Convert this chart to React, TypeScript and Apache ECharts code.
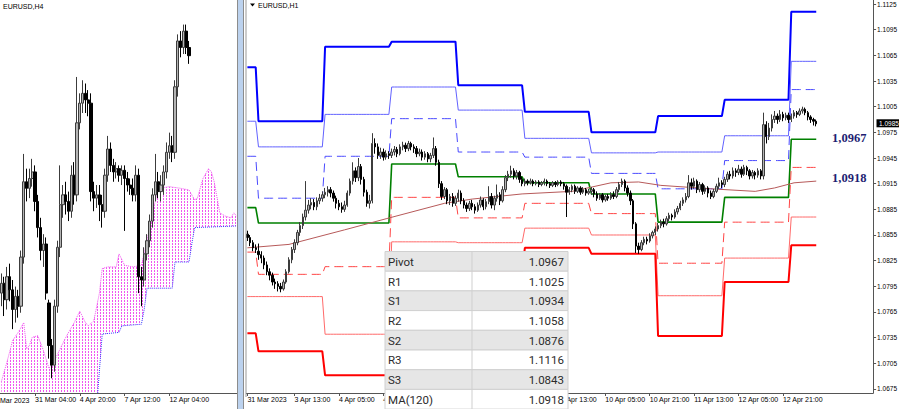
import React, { useEffect, useRef } from "react";
import * as echarts from "echarts";

const SANS = "'Liberation Sans', Arial, sans-serif";

// ---------------- Left panel: EURUSD,H4 (prices in 1e-4 units) ----------------
const h4TimeLabels: [number, string][] = [
  [12, "31 Mar 04:00"],
  [28, "4 Apr 20:00"],
  [44, "7 Apr 12:00"],
  [60, "12 Apr 04:00"],
];
const h4FirstLabel = "28 Mar 2023";

// [open, close, low, high]
const h4Candles: number[][] = [
  [10840, 10846, 10832, 10852], [10846, 10836, 10826, 10850], [10836, 10850, 10830, 10856],
  [10850, 10842, 10835, 10858], [10842, 10830, 10818, 10848], [10830, 10838, 10822, 10844],
  [10838, 10832, 10825, 10842], [10832, 10862, 10828, 10866], [10862, 10908, 10858, 10925],
  [10908, 10904, 10896, 10916], [10904, 10910, 10898, 10916], [10910, 10914, 10905, 10922],
  [10914, 10896, 10890, 10918], [10896, 10880, 10874, 10900], [10880, 10866, 10860, 10886],
  [10866, 10870, 10856, 10876], [10870, 10840, 10836, 10874], [10834, 10808, 10800, 10836],
  [10808, 10796, 10788, 10812], [10796, 10832, 10792, 10836], [10832, 10868, 10828, 10872],
  [10868, 10894, 10862, 10918], [10894, 10900, 10886, 10906], [10900, 10896, 10888, 10908],
  [10896, 10890, 10884, 10902], [10890, 10912, 10886, 10918], [10912, 10900, 10894, 10920],
  [10900, 10944, 10896, 10972], [10944, 10956, 10940, 10962], [10956, 10962, 10950, 10970],
  [10962, 10958, 10950, 10968], [10958, 10956, 10948, 10964], [10956, 10902, 10896, 10962],
  [10902, 10898, 10890, 10908], [10898, 10900, 10892, 10906], [10900, 10894, 10884, 10906],
  [10894, 10890, 10880, 10900], [10890, 10912, 10886, 10916], [10912, 10928, 10908, 10936],
  [10928, 10918, 10914, 10932], [10918, 10914, 10908, 10922], [10914, 10916, 10910, 10920],
  [10916, 10912, 10908, 10918], [10912, 10915, 10906, 10918], [10915, 10910, 10878, 10918],
  [10910, 10906, 10902, 10914], [10906, 10904, 10900, 10910], [10904, 10900, 10896, 10910],
  [10900, 10912, 10896, 10918], [10912, 10850, 10840, 10916], [10850, 10848, 10832, 10856],
  [10848, 10864, 10844, 10868], [10864, 10872, 10860, 10876], [10872, 10884, 10868, 10888],
  [10884, 10900, 10880, 10904], [10900, 10908, 10896, 10925], [10908, 10902, 10898, 10914],
  [10902, 10906, 10896, 10912], [10906, 10914, 10900, 10918], [10914, 10926, 10910, 10932],
  [10926, 10930, 10922, 10938], [10930, 10926, 10920, 10936], [10926, 10966, 10922, 10970],
  [10966, 10994, 10960, 10998], [10994, 10990, 10984, 11000], [10990, 11000, 10986, 11004],
  [11000, 10990, 10986, 11004], [10990, 10985, 10980, 10994],
];

// Ichimoku cloud edges: [slot, price]
const cloudSpanA: [number, number][] = [
  [0, 10786], [2, 10798], [4, 10811], [6, 10816], [8, 10822], [9, 10806], [10, 10808],
  [11, 10813], [13, 10814], [15, 10805], [17, 10794], [19, 10799], [21, 10806], [23, 10813],
  [26, 10822], [28, 10829], [30, 10822], [31, 10820], [33, 10823], [35, 10840], [36, 10855],
  [38, 10856], [41, 10856], [42, 10864], [44, 10857], [47, 10856], [50, 10857], [52, 10872],
  [54, 10889], [56, 10904], [60, 10905], [64, 10904], [67, 10903], [69, 10897], [70, 10898],
  [72, 10910], [74, 10916], [75, 10914], [76, 10908], [78, 10889], [80, 10887], [82, 10886],
  [83, 10889], [84, 10887],
];
const cloudSpanB: [number, number][] = [
  [0, 10770], [34, 10770], [36, 10815], [42, 10816], [43, 10820], [50, 10821], [51, 10830],
  [52, 10843], [61, 10843], [62, 10859], [67, 10859], [68, 10870], [69, 10880], [84, 10881],
];

// ---------------- Right panel: EURUSD,H1 ----------------
const h1Mar31 = [
  [10856, 10852, 10848, 10860], [10852, 10846, 10842, 10855], [10846, 10840, 10836, 10849],
  [10840, 10838, 10834, 10844],
];
const h1Apr03 = [
  [10836, 10832, 10826, 10845], [10832, 10828, 10822, 10836], [10828, 10820, 10815, 10831],
  [10820, 10812, 10808, 10824], [10812, 10808, 10802, 10816], [10808, 10800, 10796, 10811],
  [10800, 10798, 10792, 10804], [10798, 10795, 10789, 10801], [10795, 10792, 10788, 10799],
  [10792, 10800, 10790, 10803], [10800, 10812, 10798, 10815], [10812, 10826, 10810, 10829],
  [10826, 10838, 10822, 10841], [10838, 10846, 10834, 10850], [10846, 10858, 10843, 10861],
  [10858, 10866, 10854, 10870], [10866, 10876, 10862, 10880], [10876, 10884, 10872, 10918],
  [10884, 10890, 10880, 10896], [10890, 10893, 10885, 10898], [10893, 10888, 10884, 10897],
  [10888, 10895, 10884, 10899], [10895, 10898, 10891, 10903], [10898, 10902, 10894, 10906],
];
const h1Apr04 = [
  [10902, 10905, 10898, 10910], [10905, 10908, 10900, 10912], [10908, 10904, 10899, 10911],
  [10904, 10898, 10894, 10907], [10898, 10892, 10886, 10901], [10892, 10888, 10884, 10896],
  [10888, 10885, 10881, 10893], [10885, 10890, 10882, 10895], [10890, 10904, 10888, 10907],
  [10904, 10918, 10901, 10921], [10918, 10930, 10914, 10940], [10930, 10922, 10917, 10934],
  [10922, 10935, 10918, 10945], [10935, 10920, 10914, 10938], [10920, 10905, 10900, 10923],
  [10905, 10892, 10888, 10908], [10892, 10895, 10886, 10902], [10895, 10962, 10892, 10974],
  [10962, 10958, 10950, 10968], [10958, 10948, 10944, 10962], [10948, 10952, 10944, 10957],
  [10952, 10946, 10942, 10956], [10946, 10950, 10943, 10954], [10950, 10948, 10944, 10953],
];
const h1Apr05 = [
  [10948, 10952, 10945, 10956], [10952, 10955, 10948, 10959], [10955, 10950, 10946, 10958],
  [10950, 10958, 10948, 10961], [10958, 10960, 10954, 10964], [10960, 10956, 10952, 10963],
  [10956, 10962, 10953, 10965], [10962, 10958, 10954, 10964], [10958, 10956, 10951, 10961],
  [10956, 10950, 10946, 10959], [10950, 10952, 10947, 10956], [10952, 10946, 10942, 10955],
  [10946, 10950, 10943, 10953], [10950, 10944, 10940, 10952], [10944, 10948, 10940, 10951],
  [10948, 10956, 10945, 10969], [10956, 10940, 10936, 10959], [10940, 10915, 10910, 10943],
  [10915, 10900, 10896, 10918], [10900, 10908, 10897, 10911], [10908, 10895, 10891, 10910],
  [10895, 10900, 10890, 10903], [10900, 10892, 10888, 10904], [10892, 10898, 10889, 10901],
];
const h1Apr06 = [
  [10898, 10904, 10894, 10908], [10904, 10895, 10891, 10907], [10895, 10890, 10886, 10898],
  [10890, 10886, 10882, 10893], [10886, 10892, 10883, 10895], [10892, 10888, 10884, 10896],
  [10888, 10884, 10880, 10891], [10884, 10890, 10882, 10893], [10890, 10896, 10887, 10900],
  [10896, 10888, 10884, 10898], [10888, 10894, 10885, 10897], [10894, 10900, 10891, 10912],
  [10900, 10890, 10886, 10904], [10890, 10898, 10884, 10901], [10898, 10902, 10894, 10914],
  [10902, 10895, 10890, 10905], [10895, 10908, 10893, 10912], [10908, 10922, 10905, 10925],
  [10922, 10926, 10918, 10930], [10926, 10930, 10922, 10936], [10930, 10924, 10920, 10933],
  [10924, 10928, 10920, 10931], [10928, 10920, 10916, 10930], [10920, 10915, 10912, 10923],
];
const h1Apr07 = [
  [10915, 10918, 10912, 10921], [10918, 10916, 10913, 10920], [10916, 10918, 10914, 10921],
  [10918, 10915, 10912, 10920], [10915, 10917, 10913, 10919], [10917, 10914, 10911, 10919],
  [10914, 10916, 10912, 10918], [10916, 10918, 10913, 10921], [10918, 10915, 10912, 10920],
  [10915, 10913, 10910, 10917], [10913, 10916, 10911, 10918], [10916, 10914, 10911, 10918],
  [10914, 10917, 10912, 10919], [10917, 10915, 10912, 10919], [10915, 10912, 10908, 10917],
  [10912, 10905, 10876, 10914], [10905, 10908, 10902, 10911], [10908, 10912, 10905, 10914],
  [10912, 10906, 10903, 10914], [10906, 10910, 10904, 10912], [10910, 10905, 10902, 10912],
  [10905, 10908, 10903, 10911], [10908, 10904, 10901, 10910], [10904, 10906, 10902, 10909],
];
const h1Apr10 = [
  [10906, 10908, 10902, 10911], [10908, 10903, 10899, 10910], [10903, 10898, 10895, 10906],
  [10898, 10902, 10896, 10904], [10902, 10896, 10893, 10904], [10896, 10900, 10894, 10902],
  [10900, 10898, 10895, 10903], [10898, 10902, 10896, 10905], [10902, 10900, 10897, 10906],
  [10900, 10908, 10898, 10911], [10908, 10914, 10905, 10917], [10914, 10918, 10911, 10921],
  [10918, 10910, 10906, 10920], [10910, 10904, 10900, 10913], [10904, 10895, 10890, 10907],
  [10895, 10868, 10862, 10897], [10868, 10842, 10834, 10870], [10842, 10838, 10833, 10846],
  [10838, 10846, 10836, 10849], [10846, 10850, 10843, 10853], [10850, 10848, 10844, 10853],
  [10848, 10854, 10846, 10857], [10854, 10858, 10851, 10860], [10858, 10862, 10855, 10865],
];
const h1Apr11 = [
  [10862, 10866, 10859, 10869], [10866, 10870, 10863, 10873], [10870, 10868, 10864, 10874],
  [10868, 10874, 10866, 10877], [10874, 10878, 10871, 10881], [10878, 10876, 10872, 10880],
  [10876, 10882, 10874, 10885], [10882, 10886, 10879, 10889], [10886, 10892, 10884, 10895],
  [10892, 10896, 10889, 10899], [10896, 10900, 10893, 10904], [10900, 10916, 10898, 10925],
  [10916, 10912, 10908, 10921], [10912, 10918, 10909, 10922], [10918, 10908, 10904, 10920],
  [10908, 10914, 10905, 10917], [10914, 10906, 10902, 10916], [10906, 10910, 10903, 10913],
  [10910, 10904, 10899, 10912], [10904, 10900, 10897, 10907], [10900, 10906, 10898, 10909],
  [10906, 10912, 10904, 10915], [10912, 10916, 10909, 10922], [10916, 10914, 10910, 10919],
];
const h1Apr12 = [
  [10914, 10920, 10911, 10923], [10920, 10926, 10917, 10929], [10926, 10924, 10920, 10930],
  [10924, 10930, 10921, 10934], [10930, 10928, 10923, 10933], [10928, 10932, 10925, 10937],
  [10932, 10926, 10922, 10935], [10926, 10934, 10924, 10937], [10934, 10930, 10925, 10936],
  [10930, 10924, 10920, 10932], [10924, 10928, 10921, 10931], [10928, 10925, 10920, 10930],
  [10925, 10930, 10922, 10933], [10930, 10924, 10920, 10932], [10924, 10984, 10920, 10998],
  [10984, 10970, 10962, 10988], [10970, 10980, 10966, 10986], [10980, 10990, 10976, 10996],
  [10990, 10994, 10986, 11000], [10994, 10990, 10985, 10997], [10990, 10996, 10987, 11001],
  [10996, 10992, 10988, 10999], [10992, 10995, 10989, 10998], [10995, 10990, 10986, 10998],
];
const h1Apr13 = [
  [10990, 10994, 10987, 10997], [10994, 10998, 10991, 11001], [10998, 10996, 10992, 11000],
  [10996, 11000, 10994, 11003], [11000, 11002, 10997, 11005], [11002, 10998, 10995, 11004],
  [10998, 10993, 10989, 11000], [10993, 10990, 10986, 10995], [10990, 10988, 10983, 10992],
  [10988, 10985, 10982, 10990],
];

// Daily pivot levels, one per day (31 Mar, 3..7 Apr, 10..13 Apr)
const r3Levels = [1.1051, 1.0988, 1.1075, 1.1081, 1.1030, 1.0999, 1.0975, 1.0994, 1.1013, 1.1116];
const r2Levels = [1.0988, 1.0958, 1.0996, 1.1028, 1.1001, 1.0968, 1.0951, 1.0952, 1.0971, 1.1058];
const r1Levels = [1.0947, 1.0898, 1.0947, 1.0991, 1.0952, 1.0946, 1.0927, 1.0909, 1.0942, 1.1025];
const pivotLevels = [1.0887, 1.0869, 1.0869, 1.0938, 1.0923, 1.0916, 1.0903, 1.0870, 1.0899, 1.0967];
const s1Levels = [1.0835, 1.0809, 1.0818, 1.0899, 1.0875, 1.0892, 1.0880, 1.0822, 1.0870, 1.0934];
const s2Levels = [1.0783, 1.0783, 1.0739, 1.0847, 1.0846, 1.0863, 1.0855, 1.0784, 1.0828, 1.0876];
const s3Levels = [1.0740, 1.0719, 1.0691, 1.0805, 1.0812, 1.0840, 1.0833, 1.0737, 1.0800, 1.0843];

// MA(120): [slot, price]
const ma120Points: [number, number][] = [
  [0, 1.0840], [15, 1.0844], [35, 1.0861], [50, 1.0874], [71, 1.0892], [81, 1.0897],
  [99, 1.0903], [117, 1.0906], [131, 1.0916], [141, 1.0917], [149, 1.0913], [167, 1.0909],
  [183, 1.0906], [190, 1.0910], [197, 1.0916], [205, 1.0918],
];

const h1TimeLabels: [number, string][] = [
  [0, "31 Mar 2023"], [17, "3 Apr 13:00"], [33, "4 Apr 05:00"], [49, "4 Apr 21:00"],
  [113, "7 Apr 13:00"], [129, "10 Apr 05:00"], [145, "10 Apr 21:00"], [161, "11 Apr 13:00"],
  [177, "12 Apr 05:00"], [193, "12 Apr 21:00"],
];

const priceTicks = [
  1.0675, 1.0705, 1.0735, 1.0765, 1.0795, 1.0825, 1.0855, 1.0885, 1.0915, 1.0945, 1.0975,
  1.1005, 1.1035, 1.1065, 1.1095, 1.1125,
];

const tableLabels = ["Pivot", "R1", "S1", "R2", "S2", "R3", "S3", "MA(120)"];

function cloudPattern(): string {
  const c = document.createElement("canvas");
  c.width = 3;
  c.height = 3;
  const g = c.getContext("2d")!;
  g.fillStyle = "#f055f0";
  g.fillRect(1, 0, 1, 2);
  return c.toDataURL();
}

export default function App() {
  const ref = useRef<HTMLDivElement>(null);

  useEffect(() => {
    const chart = echarts.init(ref.current!, null, { renderer: "svg" });
    const pip = (v: number) => v / 10000;

    const leftSlots = Array.from({ length: 85 }, (_, i) => String(i));
    const rightSlots = Array.from({ length: 226 }, (_, i) => String(i));

    const h4Data = h4Candles.map((c) => c.map(pip));
    const spanA = cloudSpanA.map(([s, v]) => [s, pip(v)]);
    const spanB = cloudSpanB.map(([s, v]) => [s, pip(v)]);

    const h1Days = [h1Mar31, h1Apr03, h1Apr04, h1Apr05, h1Apr06, h1Apr07, h1Apr10, h1Apr11, h1Apr12, h1Apr13];
    const h1Data = h1Days.flat().map((c) => c.map(pip));
    const dayLens = h1Days.map((d) => d.length);
    const expand = (lv: number[]) => dayLens.flatMap((n, i) => Array(n).fill(lv[i]));

    const leftMap = new Map(h4TimeLabels);
    const rightMap = new Map(h1TimeLabels);

    const xAxisFor = (gridIndex: number, data: string[], map: Map<number, string>) => ({
      type: "category",
      gridIndex,
      data,
      boundaryGap: true,
      z: 10,
      axisLine: { show: true, lineStyle: { color: "#555", width: 1 } },
      axisTick: {
        show: true,
        alignWithLabel: true,
        length: 3,
        interval: (i: number) => map.has(i),
        lineStyle: { color: "#555" },
      },
      axisLabel: {
        show: true,
        interval: (i: number) => map.has(i),
        formatter: (_v: string, i: number) => map.get(i) ?? "",
        align: "left",
        margin: 3,
        fontSize: 7,
        color: "#000",
        fontFamily: SANS,
      },
      splitLine: { show: false },
    });

    const lvl = (data: number[], color: string, width: number, type: any) => ({
      type: "line",
      xAxisIndex: 1,
      yAxisIndex: 1,
      data,
      symbol: "none",
      showSymbol: false,
      silent: true,
      z: 2,
      lineStyle: { color, width, type },
    });

    const candleStyle = {
      color: "#b4b4b4",
      color0: "#000000",
      borderColor: "#3c3c3c",
      borderColor0: "#000000",
      borderWidth: 1,
    };

    const option: any = {
      animation: false,
      backgroundColor: "#ffffff",
      grid: [
        { left: 0, top: 0, width: 238, height: 393 },
        { left: 246, top: 0, width: 630, height: 393 },
      ],
      xAxis: [xAxisFor(0, leftSlots, leftMap), xAxisFor(1, rightSlots, rightMap)],
      yAxis: [
        { type: "value", gridIndex: 0, min: 1.0779, max: 1.1019, show: false, splitLine: { show: false } },
        {
          type: "value",
          gridIndex: 1,
          position: "right",
          min: 1.06703,
          max: 1.11297,
          z: 10,
          axisLine: { show: true, lineStyle: { color: "#555" } },
          axisTick: { show: true, length: 3, customValues: priceTicks, lineStyle: { color: "#555" } },
          axisLabel: {
            customValues: priceTicks,
            formatter: (v: number) => v.toFixed(4),
            fontSize: 6.5,
            margin: 4,
            color: "#000",
            fontFamily: SANS,
          },
          splitLine: { show: false },
        },
      ],
      series: [
        {
          type: "line",
          xAxisIndex: 0,
          yAxisIndex: 0,
          data: spanA,
          symbol: "none",
          silent: true,
          z: 1,
          lineStyle: { color: "#f055f0", width: 1, type: "dotted" },
          areaStyle: {
            origin: "start",
            opacity: 1,
            color: { image: cloudPattern(), repeat: "repeat", imageWidth: 3, imageHeight: 3 },
          },
        },
        {
          type: "line",
          xAxisIndex: 0,
          yAxisIndex: 0,
          data: spanB,
          symbol: "none",
          silent: true,
          z: 1,
          lineStyle: { color: "#3a3aff", width: 1, type: "dotted" },
          areaStyle: { origin: "start", opacity: 1, color: "#ffffff" },
        },
        {
          type: "candlestick",
          xAxisIndex: 0,
          yAxisIndex: 0,
          data: h4Data,
          barWidth: 2.6,
          z: 3,
          silent: true,
          itemStyle: candleStyle,
        },
        lvl(expand(r3Levels), "#0000ff", 2, "solid"),
        lvl(expand(r2Levels), "#6262ff", 1, "solid"),
        lvl(expand(r1Levels), "#4a4aff", 1, [9, 5]),
        lvl(expand(pivotLevels), "#008000", 1.6, "solid"),
        lvl(expand(s1Levels), "#ff4545", 1, [9, 5]),
        lvl(expand(s2Levels), "#ff6a6a", 1, "solid"),
        lvl(expand(s3Levels), "#ff0000", 2, "solid"),
        {
          type: "line",
          xAxisIndex: 1,
          yAxisIndex: 1,
          data: ma120Points,
          symbol: "none",
          silent: true,
          z: 2,
          lineStyle: { color: "#b75a5a", width: 1 },
        },
        {
          type: "candlestick",
          xAxisIndex: 1,
          yAxisIndex: 1,
          data: h1Data,
          barWidth: 1.9,
          z: 3,
          silent: true,
          itemStyle: candleStyle,
        },
      ],
    };

    chart.setOption(option);

    const yR = (v: number) => chart.convertToPixel({ yAxisIndex: 1 }, v) as number;
    const x0Left = chart.convertToPixel({ xAxisIndex: 0 }, 0) as number;
    const x1Left = chart.convertToPixel({ xAxisIndex: 0 }, 1) as number;
    const slotW = x1Left - x0Left;

    const lastClose = h1Data[h1Data.length - 1][1];
    const pivotLast = pivotLevels[pivotLevels.length - 1];
    const maLast = ma120Points[ma120Points.length - 1][1];
    const tableValues = [
      pivotLast,
      r1Levels[r1Levels.length - 1],
      s1Levels[s1Levels.length - 1],
      r2Levels[r2Levels.length - 1],
      s2Levels[s2Levels.length - 1],
      r3Levels[r3Levels.length - 1],
      s3Levels[s3Levels.length - 1],
      maLast,
    ];

    const els: any[] = [];
    const txt = (text: string, x: number, y: number, font: string, fill: string, align = "left", z = 101) => ({
      type: "text",
      z,
      silent: true,
      style: {
        text,
        x,
        y,
        font,
        fill,
        align,
        textAlign: align,
        verticalAlign: "middle",
        textVerticalAlign: "middle",
      },
    });

    // panel separator
    els.push({ type: "rect", z: 100, shape: { x: 237, y: 0, width: 9, height: 409 }, style: { fill: "#ffffff" } });
    els.push({ type: "rect", z: 100, shape: { x: 237, y: 0, width: 1, height: 409 }, style: { fill: "#8c8c8c" } });
    els.push({ type: "rect", z: 100, shape: { x: 238, y: 0, width: 5, height: 409 }, style: { fill: "#bcd2ee" } });
    els.push({ type: "rect", z: 100, shape: { x: 243, y: 0, width: 1, height: 409 }, style: { fill: "#8c8c8c" } });
    els.push({ type: "rect", z: 100, shape: { x: 245.5, y: 0, width: 1, height: 397 }, style: { fill: "#9a9a9a" } });

    // titles
    els.push(txt("EURUSD,H4", 3, 6, `7px ${SANS}`, "#000"));
    els.push({ type: "polygon", z: 101, shape: { points: [[250, 3.5], [255, 3.5], [252.5, 6.5]] }, style: { fill: "#000" } });
    els.push(txt("EURUSD,H1", 258, 5, `7px ${SANS}`, "#000"));

    // partially visible first date label on the H4 panel
    els.push(txt(h4FirstLabel, x0Left - 4 * slotW, 400, `7px ${SANS}`, "#000", "left", 5));

    // annotations
    els.push(txt(pivotLast.toFixed(4).replace(".", ","), 832, yR(pivotLast) - 1.5, `bold 12.5px 'Liberation Serif', serif`, "#1e1e72"));
    els.push(txt(maLast.toFixed(4).replace(".", ","), 832, yR(maLast) - 3, `bold 12.5px 'Liberation Serif', serif`, "#1e1e72"));

    // current price tag
    const yc = yR(lastClose);
    els.push({ type: "rect", z: 101, shape: { x: 876.5, y: yc - 4.5, width: 22.5, height: 8 }, style: { fill: "#000" } });
    els.push(txt(lastClose.toFixed(4), 879, yc - 0.5, `6.5px ${SANS}`, "#fff", "left", 102));

    // table
    const tX = 385;
    const tY = 251.5;
    const rowH = 19.7;
    const c1 = 87;
    const c2 = 96;
    tableLabels.forEach((lab, i) => {
      const y = tY + i * rowH;
      els.push({
        type: "rect",
        z: 100,
        shape: { x: tX, y, width: c1 + c2, height: rowH },
        style: { fill: i % 2 === 0 ? "#e6e6e6" : "#ffffff", stroke: "#d0d0d0", lineWidth: 1 },
      });
      els.push(txt(lab, tX + 3, y + rowH / 2 + 0.5, `11.5px Roboto, sans-serif`, "#2b2b2b"));
      els.push(txt(tableValues[i].toFixed(4), tX + c1 + c2 - 4, y + rowH / 2 + 0.5, `11.5px Roboto, sans-serif`, "#2b2b2b", "right"));
    });
    els.push({
      type: "line",
      z: 101,
      shape: { x1: tX + c1, y1: tY, x2: tX + c1, y2: 409 },
      style: { stroke: "#cfcfcf", lineWidth: 1 },
    });

    chart.setOption({ graphic: { elements: els } });

    return () => chart.dispose();
  }, []);

  return (
    <div
      ref={ref}
      style={{ position: "fixed", left: 0, top: 0, width: 900, height: 409, background: "#ffffff" }}
    />
  );
}
